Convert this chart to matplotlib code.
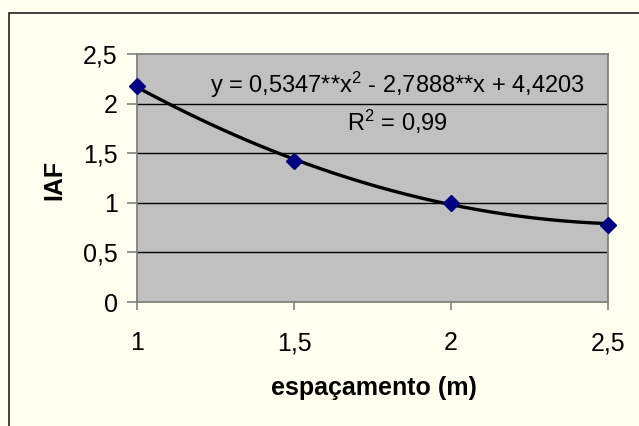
import numpy as np
import matplotlib
matplotlib.use("Agg")
import matplotlib.pyplot as plt
from matplotlib.patches import Rectangle

plt.rcParams['font.family'] = ['Liberation Sans', 'DejaVu Sans']
plt.rcParams['mathtext.fontset'] = 'custom'
plt.rcParams['mathtext.rm'] = 'Liberation Sans'
plt.rcParams['mathtext.it'] = 'Liberation Sans'

# data
espacamento = [1.0, 1.5, 2.0, 2.5]
iaf = [2.18, 1.42, 1.00, 0.78]
trend_coefs = [0.5347, -2.7888, 4.4203]
x_ticks = [1.0, 1.5, 2.0, 2.5]
x_tick_labels = ['1', '1,5', '2', '2,5']
y_ticks = [0, 0.5, 1.0, 1.5, 2.0, 2.5]
y_tick_labels = ['0', '0,5', '1', '1,5', '2', '2,5']
equation = r'y = 0,5347**$\mathregular{x^{2}}$ - 2,7888**x + 4,4203'
r2_text = r'$\mathregular{R^{2}}$ = 0,99'

W, H = 639, 426
fig = plt.figure(figsize=(W / 100, H / 100), dpi=100, facecolor='#FFFFF0')
fig.patches.append(Rectangle((9 / W, -0.1), 1.2, (H - 13) / H + 0.1,
                             transform=fig.transFigure, fill=False,
                             edgecolor='#222222', linewidth=1.2))

ax = fig.add_axes([137 / W, 1 - 302 / H, (608 - 137) / W, (302 - 54) / H])
ax.set_facecolor('#C0C0C0')

ax.set_xlim(1.0, 2.5)
ax.set_ylim(0, 2.5)

for y in y_ticks[1:-1]:
    ax.axhline(y, color='black', linewidth=1.0, zorder=1)

xs = np.linspace(espacamento[0], espacamento[-1], 200)
ax.plot(xs, np.polyval(trend_coefs, xs), color='black', linewidth=2.4, zorder=3)
ax.plot(espacamento, iaf, linestyle='none', marker='D', markersize=8,
        color='#000080', zorder=4, clip_on=False)

ax.set_xticks(x_ticks)
ax.set_xticklabels(x_tick_labels)
ax.set_yticks(y_ticks)
ax.set_yticklabels(y_tick_labels)
ax.tick_params(axis='both', labelsize=18, colors='#808080', labelcolor='black',
               width=1.2)
ax.tick_params(axis='y', length=7, pad=7)
ax.tick_params(axis='x', length=6, pad=15)

for s in ax.spines.values():
    s.set_color('#808080')
    s.set_linewidth(1.3)

ax.text(1.83, 2.19, equation, fontsize=17, ha='center', va='center', zorder=5)
ax.text(1.83, 1.82, r2_text, fontsize=17, ha='center', va='center', zorder=5)

fig.text(374 / W, 1 - 388 / H, 'espaçamento (m)', fontsize=18, fontweight='bold',
         ha='center', va='center')
fig.text(54 / W, 1 - 180 / H, 'IAF', fontsize=18, fontweight='bold',
         ha='center', va='center', rotation=90)

fig.savefig('out.png', dpi=100, facecolor=fig.get_facecolor())
